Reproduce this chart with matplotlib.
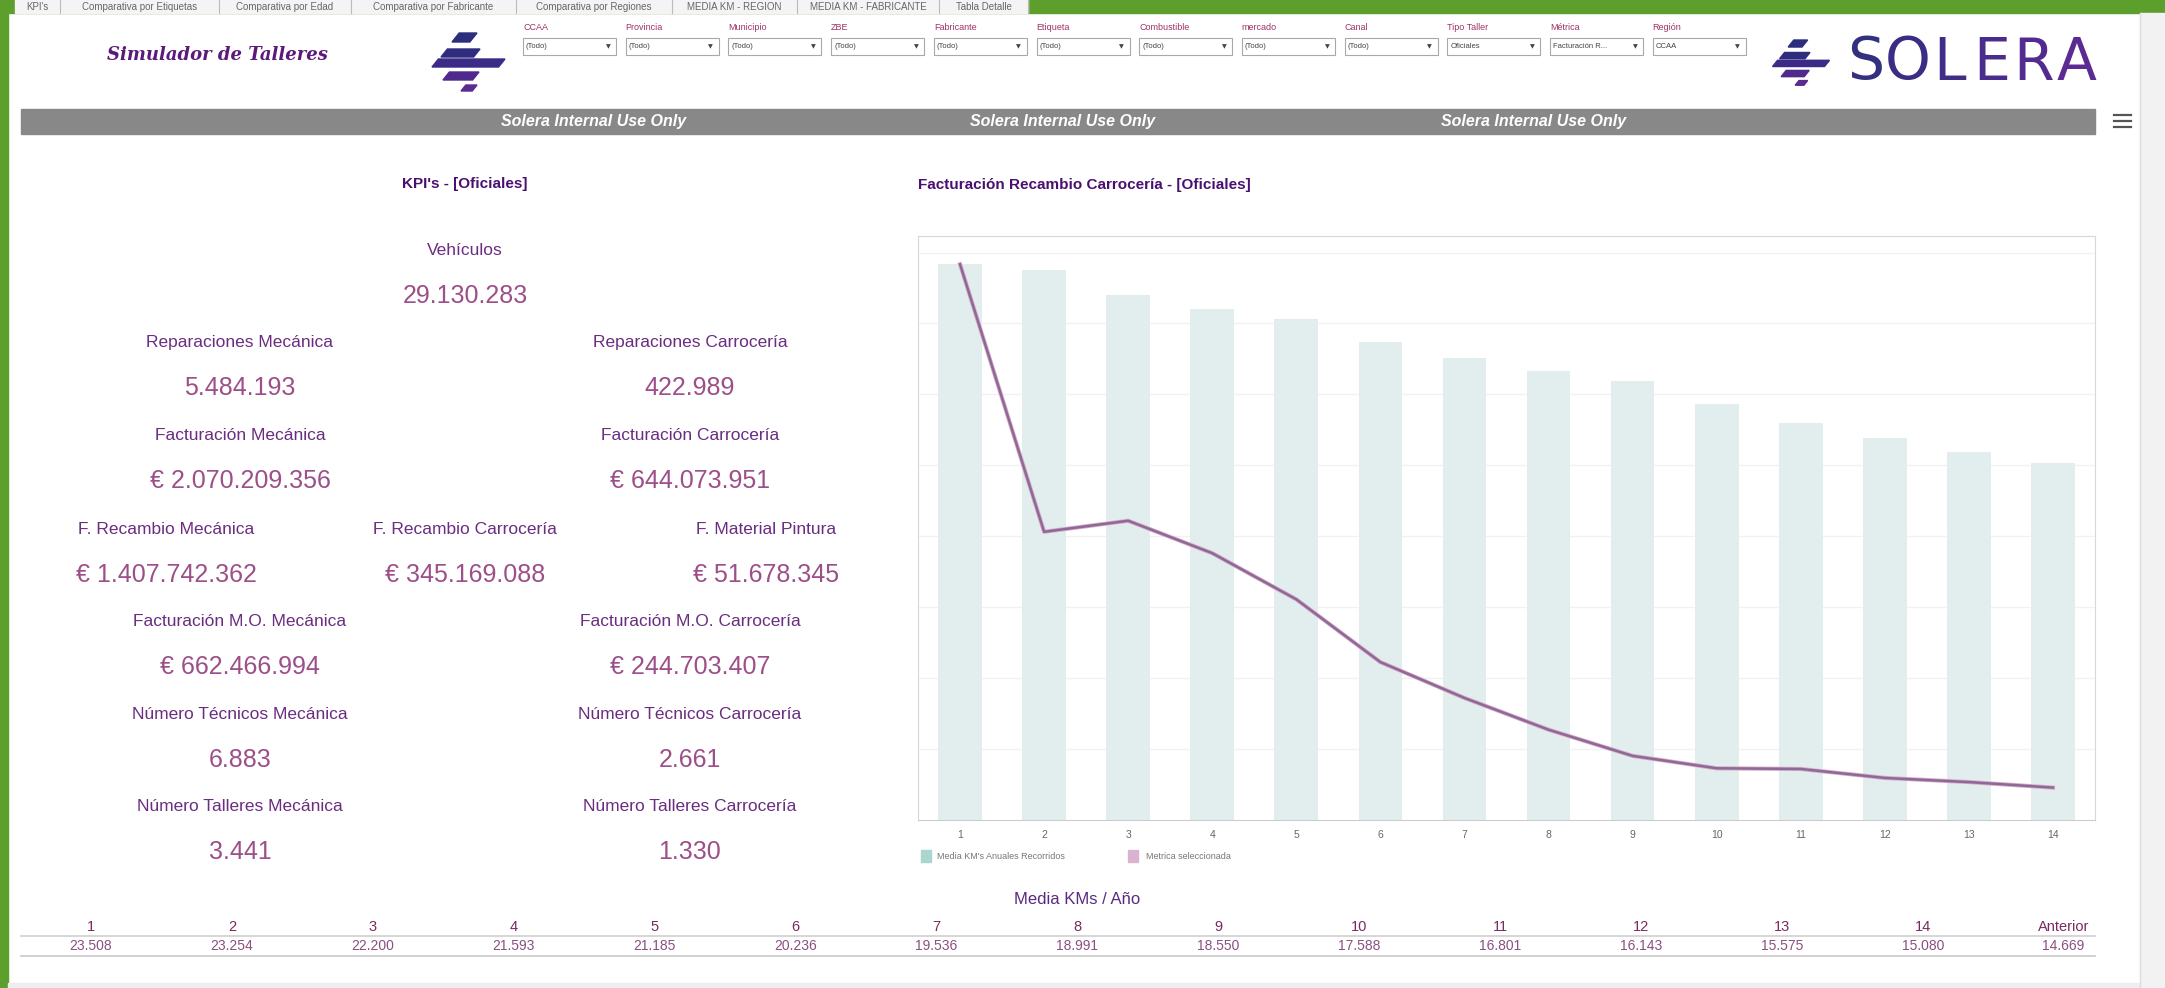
import matplotlib.pyplot as plt
from matplotlib.patches import Rectangle, Polygon
import matplotlib.patheffects as pe
import numpy as np

plt.rcParams['font.family'] = ['Liberation Sans', 'DejaVu Sans']

W, H = 2165, 988

# --- datos ---
pestanas = ["KPI's", "Comparativa por Etiquetas", "Comparativa por Edad",
            "Comparativa por Fabricante", "Comparativa por Regiones",
            "MEDIA KM - REGION", "MEDIA KM - FABRICANTE", "Tabla Detalle"]
filtros = ["CCAA", "Provincia", "Municipio", "ZBE", "Fabricante", "Etiqueta",
           "Combustible", "mercado", "Canal", "Tipo Taller", "Métrica", "Región"]
valores_filtro = ["(Todo)"] * 9 + ["Oficiales", "Facturación R...", "CCAA"]

kpi_labels = ["Vehículos",
              "Reparaciones Mecánica", "Reparaciones Carrocería",
              "Facturación Mecánica", "Facturación Carrocería",
              "F. Recambio Mecánica", "F. Recambio Carrocería", "F. Material Pintura",
              "Facturación M.O. Mecánica", "Facturación M.O. Carrocería",
              "Número Técnicos Mecánica", "Número Técnicos Carrocería",
              "Número Talleres Mecánica", "Número Talleres Carrocería"]
kpi_valores = [29130283, 5484193, 422989, 2070209356, 644073951,
               1407742362, 345169088, 51678345, 662466994, 244703407,
               6883, 2661, 3441, 1330]
kpi_euro = [False, False, False, True, True, True, True, True, True, True,
            False, False, False, False]

tramos = [str(i) for i in range(1, 15)]
media_km = [23508, 23254, 22200, 21593, 21185, 20236, 19536,
            18991, 18550, 17588, 16801, 16143, 15575, 15080]
# métrica seleccionada (facturación recambio carrocería, M€ estimados)
metrica = [80.6, 41.8, 43.4, 38.7, 32.0, 22.9, 17.7,
           13.1, 9.3, 7.5, 7.4, 6.1, 5.5, 4.7]
tabla_cols = tramos + ["Anterior"]
tabla_km = media_km + [14669]


def fmt(v):
    return f"{v:,}".replace(",", ".")


fig = plt.figure(figsize=(W / 100, H / 100), dpi=100)
bg = fig.add_axes([0, 0, 1, 1])
bg.set_xlim(0, W)
bg.set_ylim(H, 0)
bg.axis('off')

# marco verde y fondo
bg.add_patch(Rectangle((0, 0), W, 13, color='#5c9f2c', zorder=1))
bg.add_patch(Rectangle((0, 0), 8, H, color='#5c9f2c', zorder=1))
bg.add_patch(Rectangle((2140, 13), 25, H, color='#f2f2f2', zorder=1))
bg.plot([2140, 2140], [13, H], color='#dddddd', lw=1, zorder=2)
bg.add_patch(Rectangle((8, 983), 2132, 5, color='#eeeeee', zorder=1))

# pestañas
sep = [15, 60, 219, 351, 516, 672, 797, 939, 1028]
bg.add_patch(Rectangle((15, 0), 1013, 13, color='#f4f4f4', zorder=2))
for i, t in enumerate(pestanas):
    bg.plot([sep[i + 1], sep[i + 1]], [0, 13], color='#bbbbbb', lw=0.8, zorder=3)
    bg.text((sep[i] + sep[i + 1]) / 2, 6.5, t, fontsize=7, color='#666666',
            ha='center', va='center', zorder=4)

# título
bg.text(217, 55, "Simulador de Talleres", family='DejaVu Serif', style='italic',
        weight='bold', fontsize=13, color='#5b1a7a', ha='center', va='center')


def icono(x0, y0, s):
    franjas = [(22, 47, 0, 9, '#2c2d7d'), (11, 50, 16, 24, '#2f2c80'),
               (2, 75, 26, 34, '#3b2b86'), (13, 49, 39, 47, '#4f2a8c'),
               (31, 47, 52, 58, '#5c2a90')]
    for xa, xb, yt, yb, c in franjas:
        sl = 0.8 * (yb - yt)
        pts = [(xa + sl, yt), (xb, yt), (xb - sl, yb), (xa, yb)]
        pts = [(x0 + px * s, y0 + py * s) for px, py in pts]
        bg.add_patch(Polygon(pts, closed=True, color=c, zorder=3))


icono(430, 33, 1.0)
icono(1771, 40, 0.78)
colores_logo = ['#33307f', '#3a2e84', '#412d88', '#4a2c8c', '#532b90', '#5c2a93']
for i, (letra, c) in enumerate(zip("SOLERA", colores_logo)):
    bg.text(1866 + i * 42, 63, letra, family='DejaVu Sans', fontsize=42, color=c,
            ha='center', va='center')

# filtros
for i, (f, v) in enumerate(zip(filtros, valores_filtro)):
    x = 523 + i * 102.7
    bg.text(x, 28, f, fontsize=6.5, color='#a0306a', ha='left', va='center')
    bg.add_patch(Rectangle((x, 38), 93, 17, facecolor='white', edgecolor='#a8a8a8',
                           lw=0.8, zorder=3))
    bg.text(x + 3, 46.5, v, fontsize=5.5, color='#444444', ha='left', va='center', zorder=4)
    bg.text(x + 85, 47, "▼", family='DejaVu Sans', fontsize=4.5, color='#444444',
            ha='center', va='center', zorder=4)

# banda gris
bg.add_patch(Rectangle((21, 109), 2074, 25, color='#888888', zorder=2))
for x in [594, 1063, 1534]:
    bg.text(x, 121.5, "Solera Internal Use Only", fontsize=11.5, weight='bold',
            style='italic', color='white', ha='center', va='center', zorder=3)
for y in [115, 121, 127]:
    bg.plot([2114, 2131], [y, y], color='#555555', lw=1.6, zorder=3)

# KPIs
bg.text(465, 184, "KPI's - [Oficiales]", fontsize=11, weight='bold', color='#4a1070',
        ha='center', va='center')
kpi_pos = [(465, 250), (240, 342), (690, 342), (240, 435), (690, 435),
           (166, 529), (465, 529), (766, 529), (240, 621), (690, 621),
           (240, 714), (690, 714), (240, 806), (690, 806)]
for lab, val, eur, (x, y) in zip(kpi_labels, kpi_valores, kpi_euro, kpi_pos):
    bg.text(x, y, lab, fontsize=12.5, color='#6a2d80', ha='center', va='center')
    txt = ("€ " if eur else "") + fmt(val)
    bg.text(x, y + 46, txt, fontsize=18, color='#9c4f88', ha='center', va='center')

# título gráfico
bg.text(918, 185, "Facturación Recambio Carrocería - [Oficiales]", fontsize=11,
        weight='bold', color='#4a1070', ha='left', va='center')

# gráfico
ax = fig.add_axes([918 / W, 1 - 820 / H, (2095 - 918) / W, (820 - 236) / H])
x = np.arange(1, 15)
ax.bar(x, media_km, width=0.52, color='#e2eded', zorder=2)
ax.set_xlim(0.5, 14.5)
ax.set_ylim(0, 24700)
ax.set_yticks(np.arange(3000, 24001, 3000))
ax.yaxis.grid(True, color='#f1f1f1', lw=1, zorder=0)
ax.tick_params(axis='y', length=0, labelleft=False)
ax.set_xticks(x)
ax.set_xticklabels(tramos, fontsize=7.5, color='#666666')
ax.tick_params(axis='x', length=0, pad=7)
for s in ax.spines.values():
    s.set_color('#d8d8d8')
ax.spines['bottom'].set_color('#cccccc')

ax2 = ax.twinx()
ax2.plot(x, metrica, color='#8d6a95', lw=1.8, zorder=3,
         path_effects=[pe.Stroke(linewidth=3, foreground='#d9aacb'), pe.Normal()])
ax2.set_ylim(0, 84.7)
ax2.set_yticks([])
for s in ax2.spines.values():
    s.set_visible(False)

# leyenda
bg.add_patch(Rectangle((921, 850), 10, 12, color='#a9d6cf'))
bg.text(937, 856, "Media KM's Anuales Recorridos", fontsize=6.5, color='#777777',
        ha='left', va='center')
bg.add_patch(Rectangle((1128, 850), 10, 12, color='#d9b3cf'))
bg.text(1146, 856, "Metrica seleccionada", fontsize=6.5, color='#777777',
        ha='left', va='center')

# tabla
bg.text(1077, 899, "Media KMs / Año", fontsize=12, color='#5a2a80', ha='center', va='center')
bg.plot([21, 2095], [936, 936], color='#d0d0d0', lw=1.2)
bg.plot([21, 2095], [956, 956], color='#c8c8c8', lw=1.2)
for i, (c, v) in enumerate(zip(tabla_cols, tabla_km)):
    xc = 91 + i * 140.9
    bg.text(xc, 927, c, fontsize=10.5, color='#7a2a5e', ha='center', va='center')
    bg.text(xc, 946, fmt(v), fontsize=10, color='#8a5080', ha='center', va='center')

fig.savefig('out.png', dpi=100, facecolor='white')
